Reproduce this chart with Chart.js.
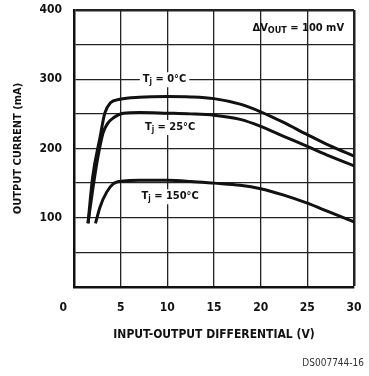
<!DOCTYPE html>
<html>
<head>
<meta charset="utf-8">
<script src="https://cdn.jsdelivr.net/npm/chart.js@4"></script>
<style>
  html, body { margin: 0; padding: 0; background: #fff; }
  #wrap { width: 369px; height: 376px; }
</style>
</head>
<body>
<div id="wrap"><canvas id="chart" width="369" height="376"></canvas></div>
<script>
// Curves (V, mA)
const x0 = [1.5, 2.0, 2.8, 3.3, 3.9, 4.9, 7, 10, 12.5, 15, 17.8, 20, 22.4, 25, 27.4, 30];
const y0 = [92, 159, 217, 251, 266, 271, 274, 275, 274.5, 272, 264, 253, 238, 220, 204, 189];

const x25 = [1.5, 2.0, 2.5, 3.1, 3.6, 4.2, 5.3, 7, 10, 12.5, 15, 17.8, 20, 22.4, 25, 27.4, 30];
const y25 = [92, 140, 183, 222, 236, 244, 251, 252, 251, 250, 248, 242, 232, 218, 203, 189, 175];

const x150 = [2.3, 2.8, 3.5, 4.2, 5.3, 7, 10, 12.5, 15, 17.8, 20, 22.4, 25, 27.4, 30];
const y150 = [92, 116, 137, 149, 153, 154, 154, 152.5, 150, 147, 142, 133, 121, 108, 94];

const yTickLabels = [100, 200, 300, 400];
const FONT = "'Liberation Sans Narrow', 'DejaVu Sans Condensed', sans-serif";

const pts = (xs, ys) => xs.map((x, i) => ({ x, y: ys[i] }));
const curve = (xs, ys) => ({
    data: pts(xs, ys),
    showLine: true,
    borderColor: '#111',
    borderWidth: 3,
    pointRadius: 0,
    cubicInterpolationMode: 'monotone',
    fill: false
});

// labels on the curves, drawn with a white box that breaks the grid
const labelPlugin = {
    id: 'labels',
    afterDatasetsDraw(chart) {
        const { ctx, scales: { x, y } } = chart;
        ctx.save();
        ctx.fillStyle = '#111';
        ctx.textBaseline = 'middle';

        function tj(vx, vy, temp) {
            const px = x.getPixelForValue(vx), py = y.getPixelForValue(vy);
            ctx.font = 'bold 11px ' + FONT;
            const w1 = ctx.measureText('T').width;
            ctx.font = 'bold 8px ' + FONT;
            const w2 = ctx.measureText('j').width;
            ctx.font = 'bold 11px ' + FONT;
            const rest = ' = ' + temp;
            const w3 = ctx.measureText(rest).width;
            const w = w1 + w2 + w3;
            let left = px - w / 2;
            ctx.fillStyle = '#fff';
            ctx.fillRect(left - 3, py - 7, w + 6, 15);
            ctx.fillStyle = '#111';
            ctx.textAlign = 'left';
            ctx.fillText('T', left, py);
            ctx.font = 'bold 8px ' + FONT;
            ctx.fillText('j', left + w1, py + 3);
            ctx.font = 'bold 11px ' + FONT;
            ctx.fillText(rest, left + w1 + w2, py);
        }
        tj(9.7, 300, '0°C');
        tj(10.3, 231, '25°C');
        tj(10.3, 131, '150°C');

        // ΔVOUT = 100 mV
        const px = x.getPixelForValue(23.2), py = y.getPixelForValue(374);
        ctx.font = 'bold 11px ' + FONT;
        ctx.textAlign = 'left';
        let cx = px - 38;
        ctx.fillText('ΔV', cx, py);
        cx += ctx.measureText('ΔV').width;
        ctx.font = 'bold 9px ' + FONT;
        ctx.fillText('OUT', cx, py + 3);
        cx += ctx.measureText('OUT').width;
        ctx.font = 'bold 11px ' + FONT;
        ctx.fillText(' = 100 mV', cx, py);

        // figure code
        ctx.font = '10px ' + FONT;
        ctx.fillStyle = '#333';
        ctx.textAlign = 'right';
        ctx.fillText('DS007744-16', 364, 363);
        ctx.restore();
    }
};

new Chart(document.getElementById('chart'), {
    type: 'scatter',
    data: {
        datasets: [curve(x0, y0), curve(x25, y25), curve(x150, y150)]
    },
    options: {
        responsive: false,
        animation: false,
        layout: { padding: { top: 10, right: 15, left: 0, bottom: 30 } },
        plugins: { legend: { display: false }, tooltip: { enabled: false } },
        scales: {
            x: {
                type: 'linear', min: 0, max: 30,
                afterFit: s => { s.height = 59; s.paddingRight = 0; s.paddingLeft = 0; },
                ticks: {
                    stepSize: 5,
                    padding: 14,
                    color: '#111',
                    font: { family: FONT, size: 12, weight: 'bold' },
                    maxRotation: 0,
                    callback: v => v === 0 ? '0\u2003\u2003' : v
                },
                grid: {
                    color: '#222',
                    lineWidth: c => (c.tick && c.tick.value === 30) ? 2.5 : 1.3,
                    drawTicks: false
                },
                border: { display: true, color: '#111', width: 2.5 },
                title: {
                    display: true,
                    text: 'INPUT-OUTPUT DIFFERENTIAL (V)',
                    color: '#111',
                    font: { family: FONT, size: 12, weight: 'bold' },
                    padding: { top: 16 }
                }
            },
            y: {
                type: 'linear', min: 0, max: 400,
                afterFit: s => { s.width = 74; s.paddingTop = 0; s.paddingBottom = 0; },
                ticks: {
                    stepSize: 50,
                    padding: 12,
                    color: '#111',
                    font: { family: FONT, size: 12, weight: 'bold' },
                    callback: v => yTickLabels.includes(v) ? v : ''
                },
                grid: {
                    color: '#222',
                    lineWidth: c => (c.tick && c.tick.value === 400) ? 2.5 : 1.3,
                    drawTicks: false
                },
                border: { display: true, color: '#111', width: 2.5 },
                title: {
                    display: true,
                    text: 'OUTPUT CURRENT (mA)',
                    color: '#111',
                    font: { family: FONT, size: 11, weight: 'bold' },
                    padding: { bottom: 0, top: 12 }
                }
            }
        }
    },
    plugins: [labelPlugin]
});
</script>
</body>
</html>
